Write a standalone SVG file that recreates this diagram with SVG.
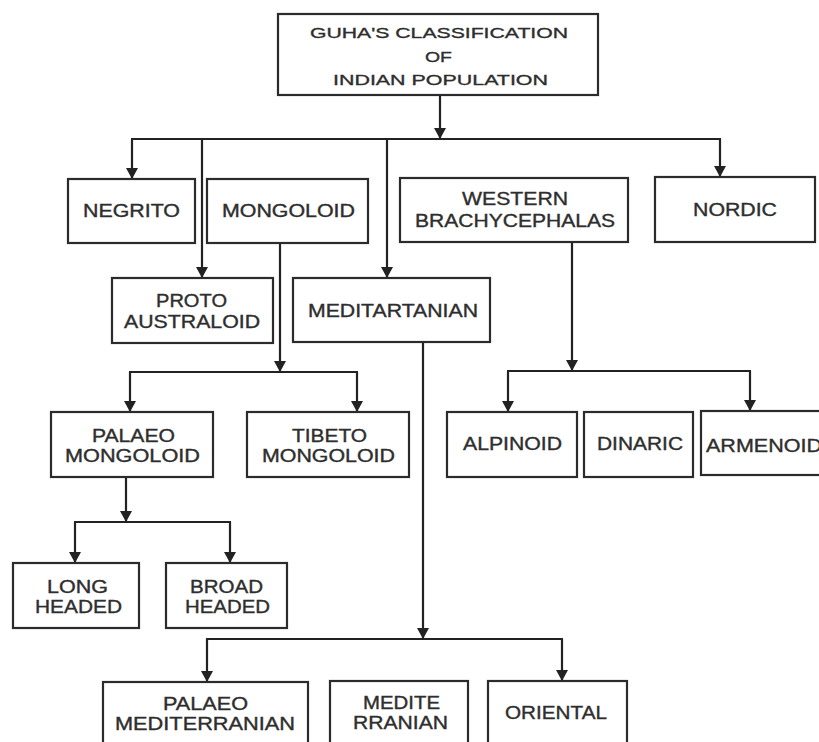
<svg xmlns="http://www.w3.org/2000/svg" width="819" height="742" viewBox="0 0 819 742">
  <defs>
    <marker id="arrow" markerUnits="userSpaceOnUse" markerWidth="13" markerHeight="13" refX="11" refY="6" orient="auto">
      <path d="M0,0 L11,6 L0,12 z" fill="#222"/>
    </marker>
    <style>
      .box { fill: #fff; stroke: #2b2b2b; stroke-width: 2.2; }
      .lbl { font-family: "Liberation Sans", Arial, sans-serif; font-size: 17.5px; fill: #2e2e2e; stroke: #2e2e2e; stroke-width: 0.35; }
      .ttl { font-family: "Liberation Sans", Arial, sans-serif; font-size: 15.5px; fill: #2e2e2e; stroke: #2e2e2e; stroke-width: 0.35; }
      .wire { fill: none; stroke: #222; stroke-width: 2.2; }
      .arr { marker-end: url(#arrow); }
    </style>
  </defs>
  <rect width="819" height="742" fill="#fff"/>

  <!-- connectors -->
  <g id="connectors">
    <line class="wire arr" x1="440" y1="95" x2="440" y2="139"/>
    <line class="wire" x1="131" y1="139" x2="721" y2="139"/>
    <line class="wire arr" x1="132" y1="139" x2="132" y2="179"/>
    <line class="wire arr" x1="202" y1="139" x2="202" y2="278"/>
    <line class="wire arr" x1="387" y1="139" x2="387" y2="278"/>
    <line class="wire arr" x1="720" y1="139" x2="720" y2="177"/>

    <line class="wire arr" x1="280" y1="243" x2="280" y2="372"/>
    <line class="wire" x1="129" y1="372" x2="358" y2="372"/>
    <line class="wire arr" x1="130" y1="372" x2="130" y2="412"/>
    <line class="wire arr" x1="357" y1="372" x2="357" y2="412"/>

    <line class="wire arr" x1="572" y1="242" x2="572" y2="371"/>
    <line class="wire" x1="507" y1="371" x2="751" y2="371"/>
    <line class="wire arr" x1="508" y1="371" x2="508" y2="412"/>
    <line class="wire arr" x1="750" y1="371" x2="750" y2="411"/>

    <line class="wire arr" x1="126" y1="477" x2="126" y2="522"/>
    <line class="wire" x1="74" y1="522" x2="231" y2="522"/>
    <line class="wire arr" x1="75" y1="522" x2="75" y2="563"/>
    <line class="wire arr" x1="230" y1="522" x2="230" y2="563"/>

    <line class="wire arr" x1="423" y1="342" x2="423" y2="639"/>
    <line class="wire" x1="206" y1="639" x2="563" y2="639"/>
    <line class="wire arr" x1="207" y1="639" x2="207" y2="682"/>
    <line class="wire arr" x1="562" y1="639" x2="562" y2="681"/>
  </g>

  <!-- nodes -->
  <g id="root">
    <rect class="box" x="278" y="14" width="320" height="81"/>
    <text class="ttl" x="310" y="38" textLength="258" lengthAdjust="spacingAndGlyphs">GUHA'S CLASSIFICATION</text>
    <text class="ttl" x="425" y="62" textLength="27" lengthAdjust="spacingAndGlyphs">OF</text>
    <text class="ttl" x="333" y="85" textLength="215" lengthAdjust="spacingAndGlyphs">INDIAN POPULATION</text>
  </g>
  <g id="negrito">
    <rect class="box" x="68" y="179" width="127" height="64"/>
    <text class="lbl" x="83" y="217" textLength="97" lengthAdjust="spacingAndGlyphs">NEGRITO</text>
  </g>
  <g id="mongoloid">
    <rect class="box" x="207" y="179" width="161" height="64"/>
    <text class="lbl" x="222" y="217" textLength="133" lengthAdjust="spacingAndGlyphs">MONGOLOID</text>
  </g>
  <g id="western-brachycephalas">
    <rect class="box" x="400" y="178" width="228" height="64"/>
    <text class="lbl" x="462" y="205" textLength="106" lengthAdjust="spacingAndGlyphs">WESTERN</text>
    <text class="lbl" x="415" y="227" textLength="200" lengthAdjust="spacingAndGlyphs">BRACHYCEPHALAS</text>
  </g>
  <g id="nordic">
    <rect class="box" x="655" y="177" width="160" height="65"/>
    <text class="lbl" x="693" y="216" textLength="84" lengthAdjust="spacingAndGlyphs">NORDIC</text>
  </g>
  <g id="proto-australoid">
    <rect class="box" x="112" y="278" width="161" height="65"/>
    <text class="lbl" x="156" y="307" textLength="71" lengthAdjust="spacingAndGlyphs">PROTO</text>
    <text class="lbl" x="124" y="328" textLength="136" lengthAdjust="spacingAndGlyphs">AUSTRALOID</text>
  </g>
  <g id="meditartanian">
    <rect class="box" x="293" y="278" width="197" height="64"/>
    <text class="lbl" x="308" y="317" textLength="170" lengthAdjust="spacingAndGlyphs">MEDITARTANIAN</text>
  </g>
  <g id="palaeo-mongoloid">
    <rect class="box" x="51" y="412" width="162" height="65"/>
    <text class="lbl" x="92" y="442" textLength="83" lengthAdjust="spacingAndGlyphs">PALAEO</text>
    <text class="lbl" x="65" y="462" textLength="135" lengthAdjust="spacingAndGlyphs">MONGOLOID</text>
  </g>
  <g id="tibeto-mongoloid">
    <rect class="box" x="247" y="412" width="162" height="65"/>
    <text class="lbl" x="292" y="442" textLength="75" lengthAdjust="spacingAndGlyphs">TIBETO</text>
    <text class="lbl" x="262" y="462" textLength="133" lengthAdjust="spacingAndGlyphs">MONGOLOID</text>
  </g>
  <g id="alpinoid">
    <rect class="box" x="447" y="412" width="130" height="65"/>
    <text class="lbl" x="463" y="450" textLength="99" lengthAdjust="spacingAndGlyphs">ALPINOID</text>
  </g>
  <g id="dinaric">
    <rect class="box" x="584" y="412" width="109" height="65"/>
    <text class="lbl" x="597" y="450" textLength="86" lengthAdjust="spacingAndGlyphs">DINARIC</text>
  </g>
  <g id="armenoid">
    <rect class="box" x="701" y="411" width="130" height="64"/>
    <text class="lbl" x="706" y="452" textLength="116" lengthAdjust="spacingAndGlyphs">ARMENOID</text>
  </g>
  <g id="long-headed">
    <rect class="box" x="13" y="563" width="126" height="65"/>
    <text class="lbl" x="47" y="593" textLength="61" lengthAdjust="spacingAndGlyphs">LONG</text>
    <text class="lbl" x="35" y="613" textLength="87" lengthAdjust="spacingAndGlyphs">HEADED</text>
  </g>
  <g id="broad-headed">
    <rect class="box" x="166" y="563" width="121" height="65"/>
    <text class="lbl" x="190" y="593" textLength="73" lengthAdjust="spacingAndGlyphs">BROAD</text>
    <text class="lbl" x="185" y="613" textLength="85" lengthAdjust="spacingAndGlyphs">HEADED</text>
  </g>
  <g id="palaeo-mediterranian">
    <rect class="box" x="103" y="682" width="205" height="80"/>
    <text class="lbl" x="163" y="710" textLength="85" lengthAdjust="spacingAndGlyphs">PALAEO</text>
    <text class="lbl" x="115" y="730" textLength="180" lengthAdjust="spacingAndGlyphs">MEDITERRANIAN</text>
  </g>
  <g id="mediterranian">
    <rect class="box" x="330" y="681" width="138" height="80"/>
    <text class="lbl" x="363" y="709" textLength="77" lengthAdjust="spacingAndGlyphs">MEDITE</text>
    <text class="lbl" x="353" y="729" textLength="95" lengthAdjust="spacingAndGlyphs">RRANIAN</text>
  </g>
  <g id="oriental">
    <rect class="box" x="488" y="681" width="139" height="80"/>
    <text class="lbl" x="505" y="719" textLength="102" lengthAdjust="spacingAndGlyphs">ORIENTAL</text>
  </g>
</svg>
